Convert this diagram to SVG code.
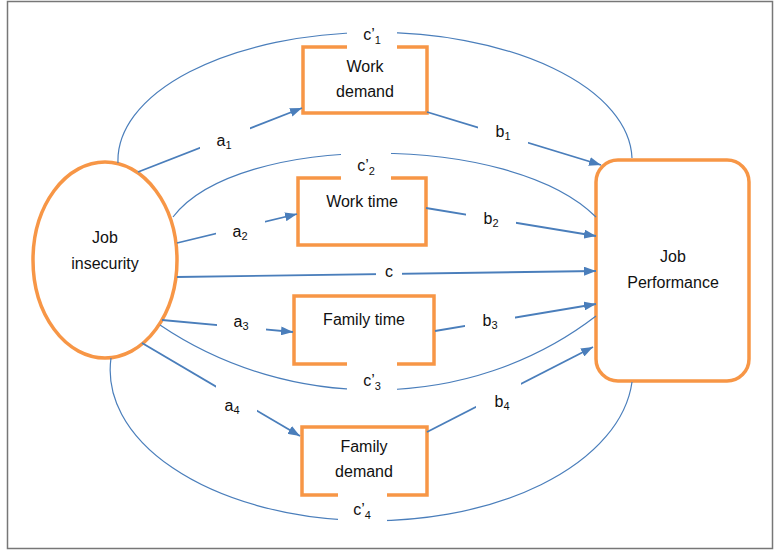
<svg xmlns="http://www.w3.org/2000/svg" width="776" height="552" viewBox="0 0 776 552">
<style>
.node{fill:#fff;stroke:#F79646;stroke-width:3.5}
.t{font-family:"Liberation Sans",Arial,sans-serif;font-size:16px;fill:#111;text-anchor:middle}
.arr{fill:none;stroke:#4A7EBB;stroke-width:1.8;marker-end:url(#ah)}
.cur{fill:none;stroke:#4A7EBB;stroke-width:1.2}
.bg{fill:#fff}
.sub{font-size:11px}
</style>
<defs>
<marker id="ah" markerUnits="userSpaceOnUse" markerWidth="12" markerHeight="9" refX="12" refY="4.5" orient="auto">
<path d="M0,0 L12,4.5 L0,9 z" fill="#4A7EBB"/>
</marker>
</defs>
<rect x="7.5" y="1.5" width="765" height="547" fill="#fff" stroke="#777" stroke-width="1.5"/>
<g id="job-insecurity">
<ellipse class="node" cx="105" cy="260" rx="72" ry="98"/>
<text class="t" x="105" y="243">Job</text>
<text class="t" x="105" y="269">insecurity</text>
</g>
<g id="job-performance">
<rect class="node" x="596" y="160" width="153" height="221" rx="22"/>
<text class="t" x="673" y="262">Job</text>
<text class="t" x="673" y="288">Performance</text>
</g>
<g id="work-demand">
<rect class="node" x="303" y="47" width="124" height="66"/>
<text class="t" x="365" y="72">Work</text>
<text class="t" x="365" y="97">demand</text>
</g>
<g id="work-time">
<rect class="node" x="298" y="178" width="128" height="67"/>
<text class="t" x="362" y="207">Work time</text>
</g>
<g id="family-time">
<rect class="node" x="294" y="296" width="140" height="68"/>
<text class="t" x="364" y="325">Family time</text>
</g>
<g id="family-demand">
<rect class="node" x="302" y="427" width="125" height="68"/>
<text class="t" x="364" y="452">Family</text>
<text class="t" x="364" y="477">demand</text>
</g>
<g id="connectors">
<path class="cur" d="M118,163 A257,128 0 0 1 632,158"/>
<path class="cur" d="M173,217 C238,132 511,132 596,217"/>
<path class="cur" d="M160,325 C290,413 470,413 596,316"/>
<path class="cur" d="M111,358 A260,150 0 0 0 632,382"/>
<path class="arr" d="M138,172 L302,108"/>
<path class="arr" d="M177,243 L297,214"/>
<path class="arr" d="M177,277 L596,271"/>
<path class="arr" d="M162,320 L293,332"/>
<path class="arr" d="M142,343 L300,436"/>
<path class="arr" d="M427,112 L601,165"/>
<path class="arr" d="M426,208 L596,236"/>
<path class="arr" d="M435,331 L596,304"/>
<path class="arr" d="M427,432 L593,347"/>
</g>
<g id="labels">
<rect class="bg" x="347" y="20" width="50" height="31"/>
<text class="t" x="372" y="40">c’<tspan class="sub" dy="4">1</tspan></text>
<rect class="bg" x="341" y="150" width="50" height="31"/>
<text class="t" x="366" y="171">c’<tspan class="sub" dy="4">2</tspan></text>
<rect class="bg" x="347" y="361" width="50" height="35"/>
<text class="t" x="372" y="386">c’<tspan class="sub" dy="4">3</tspan></text>
<rect class="bg" x="338" y="492" width="49" height="36"/>
<text class="t" x="362" y="515">c’<tspan class="sub" dy="4">4</tspan></text>
<rect class="bg" x="200" y="126" width="50" height="26"/>
<text class="t" x="224" y="146">a<tspan class="sub" dy="3">1</tspan></text>
<rect class="bg" x="216" y="218" width="49" height="27"/>
<text class="t" x="240" y="237">a<tspan class="sub" dy="3">2</tspan></text>
<rect class="bg" x="217" y="312" width="49" height="25"/>
<text class="t" x="241" y="327">a<tspan class="sub" dy="3">3</tspan></text>
<rect class="bg" x="216" y="384" width="41" height="32"/>
<text class="t" x="232" y="411">a<tspan class="sub" dy="3">4</tspan></text>
<rect class="bg" x="376" y="262" width="26" height="22"/>
<text class="t" x="389" y="277">c</text>
<rect class="bg" x="478" y="121" width="50" height="26"/>
<text class="t" x="503" y="137">b<tspan class="sub" dy="3">1</tspan></text>
<rect class="bg" x="466" y="207" width="50" height="25"/>
<text class="t" x="491" y="224">b<tspan class="sub" dy="3">2</tspan></text>
<rect class="bg" x="465" y="310" width="50" height="25"/>
<text class="t" x="490" y="326">b<tspan class="sub" dy="3">3</tspan></text>
<rect class="bg" x="476" y="382" width="45" height="32"/>
<text class="t" x="502" y="407">b<tspan class="sub" dy="3">4</tspan></text>
</g>
</svg>
